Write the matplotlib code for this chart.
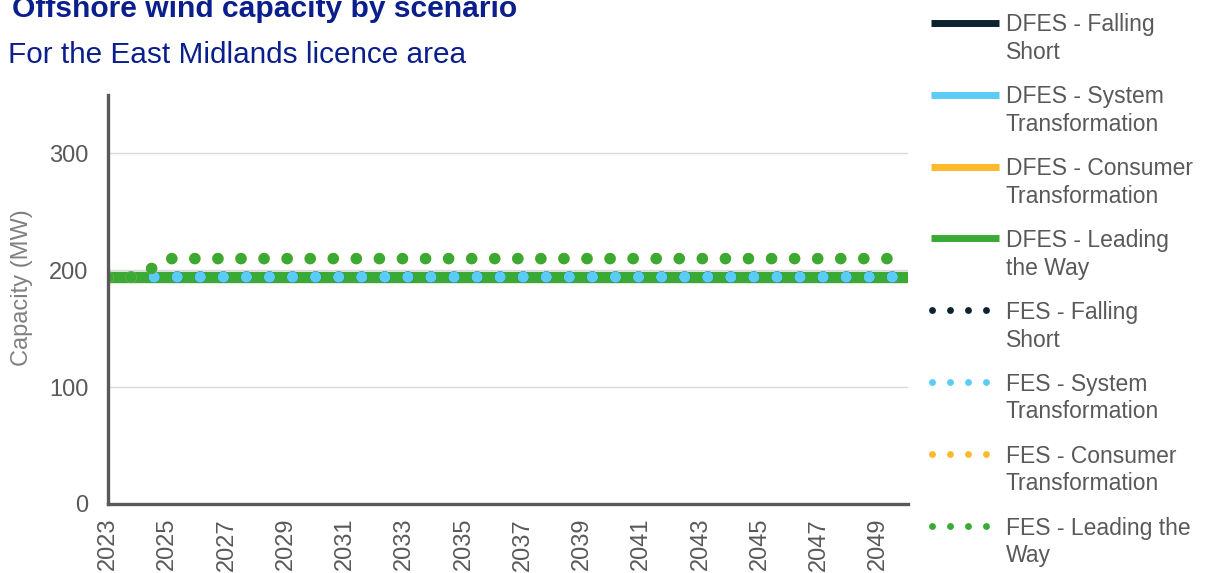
import matplotlib.pyplot as plt
from matplotlib.lines import Line2D

plt.rcParams['font.family'] = ['Liberation Sans', 'DejaVu Sans']

# Data (MW)
years = [2023, 2024, 2025, 2026, 2027, 2028, 2029, 2030, 2031, 2032, 2033, 2034, 2035, 2036,
         2037, 2038, 2039, 2040, 2041, 2042, 2043, 2044, 2045, 2046, 2047, 2048, 2049, 2050]

dfes_falling_short = [194, 194, 194, 194, 194, 194, 194, 194, 194, 194, 194, 194, 194, 194,
                      194, 194, 194, 194, 194, 194, 194, 194, 194, 194, 194, 194, 194, 194]
dfes_system_transformation = [194, 194, 194, 194, 194, 194, 194, 194, 194, 194, 194, 194, 194, 194,
                              194, 194, 194, 194, 194, 194, 194, 194, 194, 194, 194, 194, 194, 194]
dfes_consumer_transformation = [194, 194, 194, 194, 194, 194, 194, 194, 194, 194, 194, 194, 194, 194,
                                194, 194, 194, 194, 194, 194, 194, 194, 194, 194, 194, 194, 194, 194]
dfes_leading_the_way = [194, 194, 194, 194, 194, 194, 194, 194, 194, 194, 194, 194, 194, 194,
                        194, 194, 194, 194, 194, 194, 194, 194, 194, 194, 194, 194, 194, 194]

fes_falling_short = [194, 194, 194, 194, 194, 194, 194, 194, 194, 194, 194, 194, 194, 194,
                     194, 194, 194, 194, 194, 194, 194, 194, 194, 194, 194, 194, 194, 194]
fes_system_transformation = [194, 194, 194, 194, 194, 194, 194, 194, 194, 194, 194, 194, 194, 194,
                             194, 194, 194, 194, 194, 194, 194, 194, 194, 194, 194, 194, 194, 194]
fes_consumer_transformation = [194, 194, 210, 210, 210, 210, 210, 210, 210, 210, 210, 210, 210, 210,
                               210, 210, 210, 210, 210, 210, 210, 210, 210, 210, 210, 210, 210, 210]
fes_leading_the_way = [194, 194, 210, 210, 210, 210, 210, 210, 210, 210, 210, 210, 210, 210,
                       210, 210, 210, 210, 210, 210, 210, 210, 210, 210, 210, 210, 210, 210]

dfes_series = [dfes_falling_short, dfes_system_transformation,
               dfes_consumer_transformation, dfes_leading_the_way]
fes_series = [fes_falling_short, fes_system_transformation,
              fes_consumer_transformation, fes_leading_the_way]

scenario_colors = ['#0C2230', '#5ACCF6', '#FDB92A', '#3AAA35']
dfes_labels = ['DFES - Falling\nShort', 'DFES - System\nTransformation',
               'DFES - Consumer\nTransformation', 'DFES - Leading\nthe Way']
fes_labels = ['FES - Falling\nShort', 'FES - System\nTransformation',
              'FES - Consumer\nTransformation', 'FES - Leading the\nWay']

W, H = 1210, 573
fig = plt.figure(figsize=(W / 100, H / 100), dpi=100)
ax = fig.add_axes([108 / W, 1 - 504 / H, 800 / W, 409 / H])

# solid DFES lines, then dotted FES lines on top
for vals, c in zip(dfes_series, scenario_colors):
    ax.plot(years, vals, color=c, lw=8, solid_capstyle='butt')
for vals, c in zip(fes_series, scenario_colors):
    ax.plot(years, vals, color=c, lw=8.3, linestyle=(0, (0.001, 2.0)),
            dash_capstyle='round')

ax.set_xlim(2023, 2050)
ax.set_ylim(0, 350)
ax.set_yticks([0, 100, 200, 300])
ax.set_xticks(years[::2])
ax.set_xticklabels([str(y) for y in years[::2]], rotation=90)
ax.tick_params(axis='y', length=0, pad=14, labelsize=17, labelcolor='#595959')
ax.tick_params(axis='x', length=0, pad=10, labelsize=17, labelcolor='#595959')
ax.grid(axis='y', color='#D9D9D9', lw=1)
ax.set_axisbelow(True)
for side in ['top', 'right']:
    ax.spines[side].set_visible(False)
for side in ['left', 'bottom']:
    ax.spines[side].set_color('#595959')
    ax.spines[side].set_linewidth(2.4)

ax.set_ylabel('Capacity (MW)', fontsize=17, color='#808080')
ax.yaxis.set_label_coords(-0.094, 0.53)

# titles (the reference crops the top of the main title)
fig.text(12 / W, 1 - 17 / H, 'Offshore wind capacity by scenario', fontsize=21.6,
         weight='bold', color='#0B1F8C', va='baseline')
fig.text(8 / W, 1 - 63 / H, 'For the East Midlands licence area', fontsize=21.4,
         color='#0B1F8C', va='baseline')

# legend, drawn by hand so the handle sits by the first text line
step = 71.9
for i, (name, c) in enumerate(zip(dfes_labels + fes_labels, scenario_colors * 2)):
    yh = 1 - (22.7 + step * i) / H
    if i < 4:
        fig.add_artist(Line2D([931 / W, 999 / W], [yh, yh], color=c, lw=5,
                              solid_capstyle='butt', transform=fig.transFigure))
    else:
        fig.add_artist(Line2D([932 / W, 986 / W], [yh, yh], color=c, lw=5,
                              linestyle=(0, (0.001, 2.59)), dash_capstyle='round',
                              transform=fig.transFigure))
    fig.text(1006 / W, 1 - (13.5 + step * i) / H, name, fontsize=16.5, color='#595959',
             va='top', linespacing=1.25)

fig.savefig('out.png', dpi=100)
